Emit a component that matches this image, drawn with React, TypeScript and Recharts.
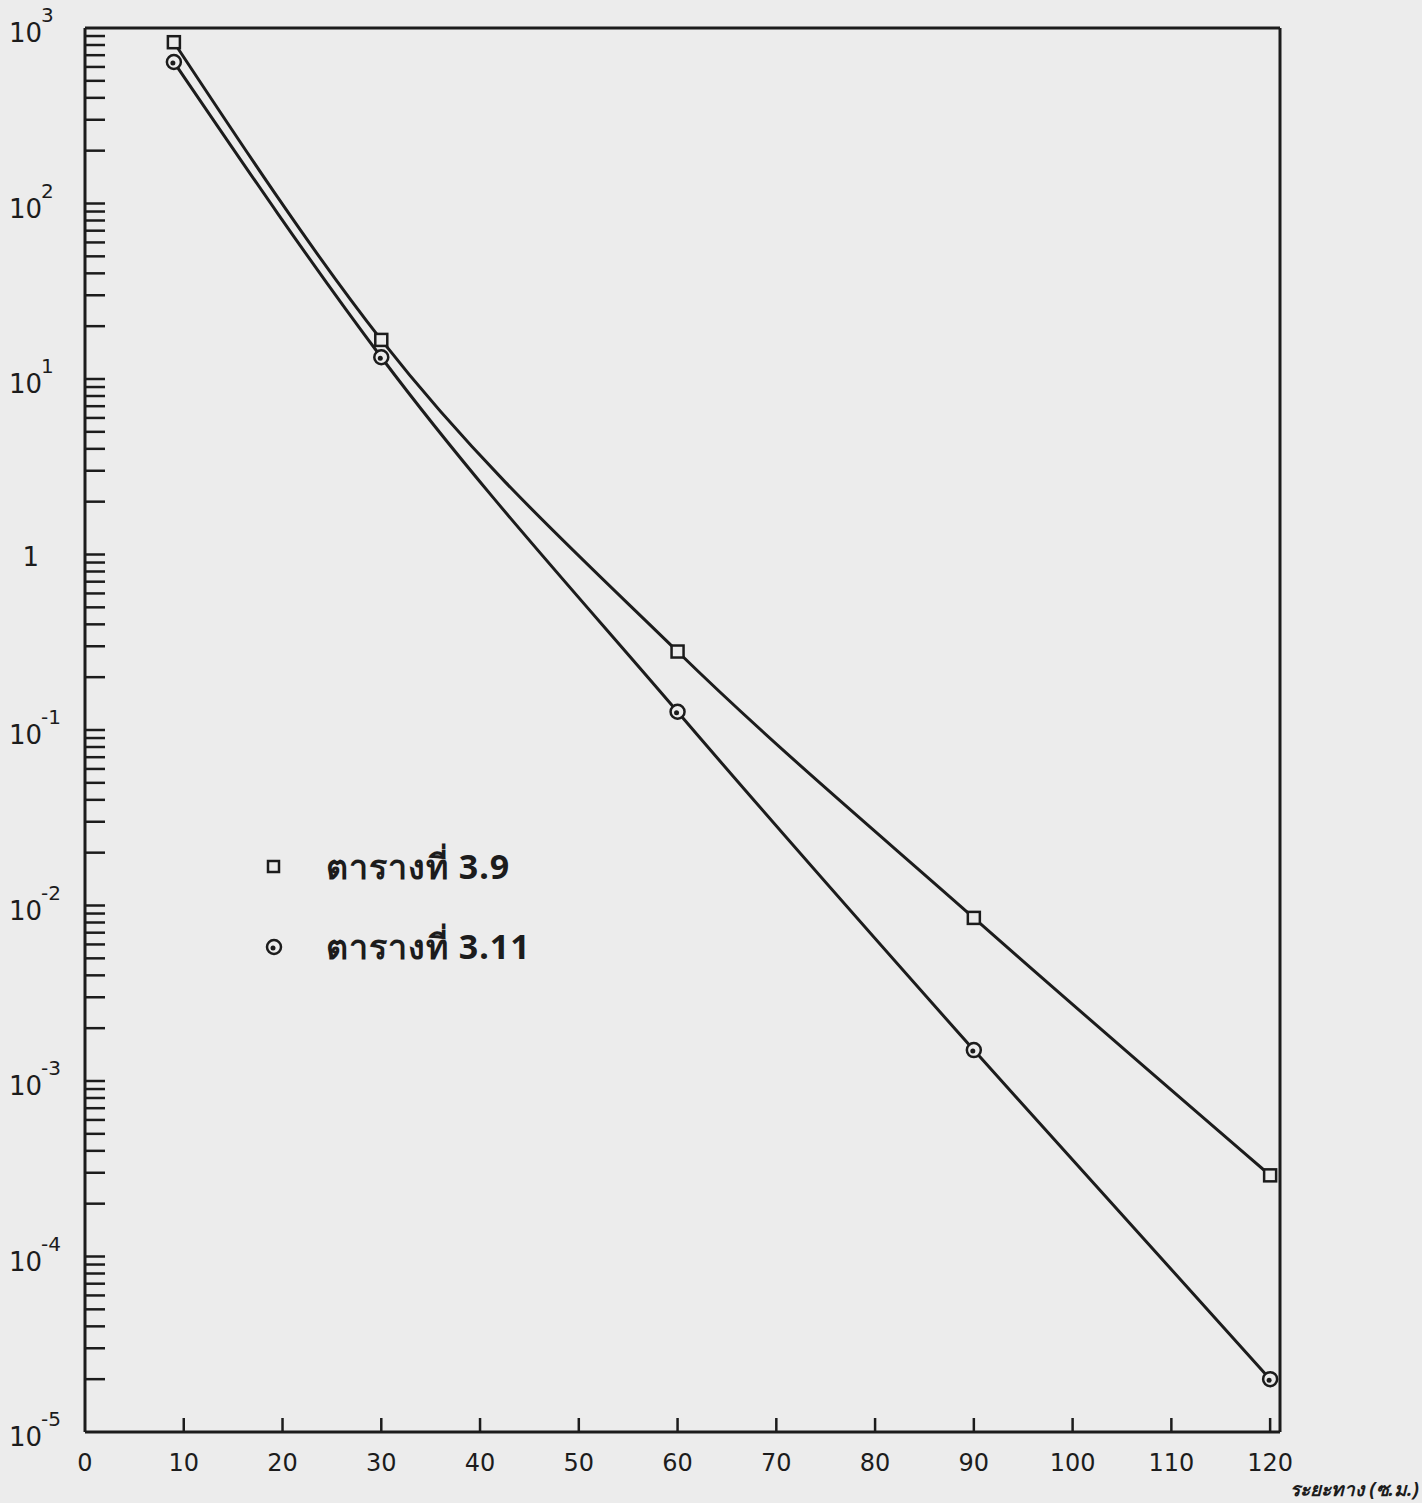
import React from "react";
import { LineChart, Line, XAxis, YAxis, ReferenceLine } from "recharts";

const distances = [9, 30, 60, 90, 120];
const table39 = [830, 16.7, 0.28, 0.0085, 0.00029];
const table311 = [640, 13.3, 0.127, 0.0015, 0.00002];
const xTicks = [0, 10, 20, 30, 40, 50, 60, 70, 80, 90, 100, 110, 120];
const decades = [-5, -4, -3, -2, -1, 0, 1, 2, 3];
const seriesNames = ["ตารางที่ 3.9", "ตารางที่ 3.11"];
const axisTitle = "ระยะทาง (ซ.ม.)";

const yTicks: number[] = [];
decades.forEach((d) => {
  if (d === 3) {
    yTicks.push(1000);
  } else {
    for (let m = 1; m <= 9; m++) yTicks.push(m * Math.pow(10, d));
  }
});

const data = distances.map((x, i) => ({ x, a: table39[i], b: table311[i] }));

const INK = "#1c1c1c";
const BG = "#ececec";
const FONT = "'DejaVu Sans', 'Open Sans', sans-serif";

function YTick(props: any) {
  const { x, y, payload } = props;
  const v = payload.value;
  const lg = Math.log10(v);
  const isDecade = Math.abs(lg - Math.round(lg)) < 1e-9;
  const e = Math.round(lg);
  return (
    <g>
      {v < 999 && v > 1.1e-5 && <line x1={x} y1={y} x2={x + 20} y2={y} stroke={INK} strokeWidth={2.5} />}
      {isDecade && e === 0 && (
        <text x={x - 46} y={y + 11} fontSize={26} fill={INK} fontFamily={FONT} textAnchor="end">
          1
        </text>
      )}
      {isDecade && e !== 0 && (
        <g fontFamily={FONT} fill={INK}>
          <text x={x - 43} y={y + 14} fontSize={26} textAnchor="end">10</text>
          <text x={x - 44} y={y - 6} fontSize={20} textAnchor="start">{String(e)}</text>
        </g>
      )}
    </g>
  );
}

function XTick(props: any) {
  const { x, y, payload } = props;
  return (
    <g>
      {payload.value > 0 && <line x1={x} y1={y} x2={x} y2={y - 14} stroke={INK} strokeWidth={2.5} />}
      <text x={x} y={y + 39} fontSize={24} fill={INK} fontFamily={FONT} textAnchor="middle">
        {payload.value}
      </text>
    </g>
  );
}

function SquareDot(props: any) {
  const { cx, cy } = props;
  if (cx == null || cy == null) return null;
  return <rect x={cx - 6} y={cy - 6} width={12} height={12} fill={BG} stroke={INK} strokeWidth={2.5} />;
}

function CircleDot(props: any) {
  const { cx, cy } = props;
  if (cx == null || cy == null) return null;
  return (
    <g>
      <circle cx={cx} cy={cy} r={7} fill={BG} stroke={INK} strokeWidth={2.5} />
      <circle cx={cx - 1} cy={cy + 1} r={2.5} fill={INK} />
    </g>
  );
}

function LegendBox() {
  return (
    <div
      style={{
        position: "absolute",
        left: 258,
        top: 827,
        fontFamily: "'Noto Sans', 'DejaVu Sans', sans-serif",
        color: INK,
      }}
    >
      {seriesNames.map((n, i) => (
        <div key={n} style={{ display: "flex", alignItems: "center", height: 80 }}>
          <svg width={40} height={30}>
            {i === 0 ? (
              <rect x={10} y={9} width={11} height={11} fill="none" stroke={INK} strokeWidth={2.5} />
            ) : (
              <g>
                <circle cx={16} cy={15} r={7} fill="none" stroke={INK} strokeWidth={2.5} />
                <circle cx={15} cy={16} r={2.5} fill={INK} />
              </g>
            )}
          </svg>
          <span style={{ marginLeft: 28, fontSize: 34, fontWeight: 700, letterSpacing: 1 }}>{n}</span>
        </div>
      ))}
    </div>
  );
}

export default function App() {
  return (
    <div style={{ position: "fixed", left: 0, top: 0, width: 1422, height: 1503, background: BG, overflow: "hidden" }}>
      <LineChart
        width={1422}
        height={1503}
        data={data}
        margin={{ top: 28, right: 142, bottom: 0, left: 0 }}
      >
        <XAxis
          dataKey="x"
          type="number"
          domain={[0, 121]}
          ticks={xTicks}
          interval={0}
          height={71}
          tickSize={0}
          tickMargin={0}
          tick={<XTick />}
          axisLine={{ stroke: INK, strokeWidth: 3 }}
          tickLine={false}
        />
        <YAxis
          type="number"
          scale="log"
          domain={[1e-5, 1000]}
          allowDataOverflow
          ticks={yTicks}
          interval={0}
          width={85}
          tickSize={0}
          tickMargin={0}
          tick={<YTick />}
          axisLine={{ stroke: INK, strokeWidth: 3 }}
          tickLine={false}
        />
        <ReferenceLine y={1000} stroke={INK} strokeWidth={3} />
        <ReferenceLine x={121} stroke={INK} strokeWidth={3} />
        <Line
          type="monotone"
          dataKey="a"
          stroke={INK}
          strokeWidth={3}
          dot={<SquareDot />}
          isAnimationActive={false}
        />
        <Line
          type="monotone"
          dataKey="b"
          stroke={INK}
          strokeWidth={3}
          dot={<CircleDot />}
          isAnimationActive={false}
        />
      </LineChart>
      <LegendBox />
      <div
        style={{
          position: "absolute",
          right: 3,
          top: 1474,
          fontSize: 19,
          fontStyle: "italic",
          fontWeight: 700,
          color: INK,
          fontFamily: "'Noto Sans', 'DejaVu Sans', sans-serif",
          whiteSpace: "nowrap",
        }}
      >
        {axisTitle}
      </div>
    </div>
  );
}
